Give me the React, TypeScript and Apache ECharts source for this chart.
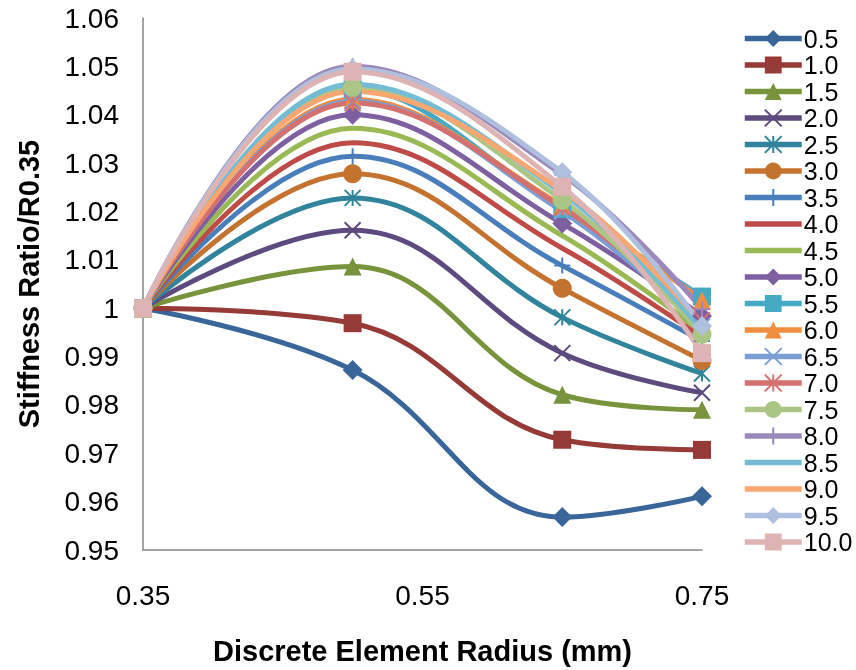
import React, { useEffect, useRef } from "react";
import * as echarts from "echarts";

const xValues = [0.35, 0.5, 0.65, 0.75];
const xTickLabels = [0.35, 0.55, 0.75];
const seriesNames = ["0.5", "1.0", "1.5", "2.0", "2.5", "3.0", "3.5", "4.0", "4.5", "5.0", "5.5", "6.0", "6.5", "7.0", "7.5", "8.0", "8.5", "9.0", "9.5", "10.0"];

const s05 = [1, 0.9872, 0.9568, 0.9611];
const s10 = [1, 0.9969, 0.9728, 0.9707];
const s15 = [1, 1.0086, 0.9821, 0.979];
const s20 = [1, 1.0161, 0.9907, 0.9825];
const s25 = [1, 1.0228, 0.9981, 0.9865];
const s30 = [1, 1.0278, 1.0041, 0.9892];
const s35 = [1, 1.0314, 1.0088, 0.9932];
const s40 = [1, 1.0342, 1.0124, 0.994];
const s45 = [1, 1.0372, 1.015, 0.995];
const s50 = [1, 1.04, 1.0175, 0.9984];
const s55 = [1, 1.0452, 1.0205, 1.0024];
const s60 = [1, 1.0432, 1.0212, 1.0016];
const s65 = [1, 1.0428, 1.02, 0.9962];
const s70 = [1, 1.0424, 1.0208, 0.9975];
const s75 = [1, 1.0457, 1.0223, 0.9946];
const s80 = [1, 1.05, 1.0276, 0.9998];
const s85 = [1, 1.0463, 1.0237, 0.9955];
const s90 = [1, 1.0448, 1.0243, 0.9968];
const s95 = [1, 1.0495, 1.0281, 0.9963];
const s100 = [1, 1.0489, 1.0251, 0.9907];

const seriesValues = [s05, s10, s15, s20, s25, s30, s35, s40, s45, s50, s55, s60, s65, s70, s75, s80, s85, s90, s95, s100];

const colors = [
  "#3A6599", "#953A37", "#77933C", "#5E4A7E", "#31849B", "#C4722F",
  "#4A7EBB", "#BE4B48", "#98B954", "#7E5FA0", "#46AAC5", "#F08E3E",
  "#7C9ED4", "#D2716F", "#AAC586", "#9B88BA", "#74BCD4", "#F9A772",
  "#AFC0DE", "#DDB3B3",
];

const X_PATH = "path://M0,0L10,10M10,0L0,10";
const AST_PATH = "path://M0,0L10,10M10,0L0,10M5,0L5,10";
const PLUS_PATH = "path://M5,0L5,10M0,5L10,5";

const symbols = [
  "diamond", "rect", "triangle", X_PATH, AST_PATH, "circle",
  PLUS_PATH, "none", "none", "diamond", "rect", "triangle",
  X_PATH, AST_PATH, "circle", PLUS_PATH, "none", "none",
  "diamond", "rect",
];

function symbolSizeOf(s: string): number {
  if (s === "diamond") return 20;
  if (s === "rect") return 18;
  if (s === "triangle") return 18;
  if (s === "circle") return 19;
  return 16;
}

const FONT = "'Liberation Sans', Arial, sans-serif";

export default function App() {
  const ref = useRef<HTMLDivElement>(null);
  useEffect(() => {
    if (!ref.current) return;
    const chart = echarts.init(ref.current, null, { renderer: "svg" });
    const series = seriesNames.map((name, i) => {
      const sym = symbols[i];
      const none = sym === "none";
      const strokeOnly = sym.startsWith("path://");
      return {
        name,
        type: "line",
        data: xValues.map((x, j) => [x, seriesValues[i][j]]),
        smooth: 0.4,
        symbol: none ? "circle" : sym,
        symbolSize: none ? 0 : symbolSizeOf(sym),
        showSymbol: !none,
        lineStyle: { color: colors[i], width: 5, opacity: 1 },
        itemStyle: none
          ? { color: colors[i], opacity: 0 }
          : strokeOnly
          ? { color: colors[i], borderColor: colors[i], borderWidth: 2 }
          : { color: colors[i], borderWidth: 0 },
        emphasis: { disabled: true },
        z: 2,
      };
    });
    chart.setOption({
      animation: false,
      color: colors,
      textStyle: { fontFamily: FONT },
      grid: { left: 143, right: 154, top: 18, bottom: 116, containLabel: false },
      legend: {
        orient: "vertical",
        left: 737,
        top: 21,
        itemWidth: 57,
        itemHeight: 21,
        itemGap: 1.5,
        lineStyle: { width: 5.5 },
        textStyle: { fontSize: 25, color: "#000", fontFamily: FONT, padding: [0, 0, 0, -3] },
        data: seriesNames,
      },
      xAxis: {
        type: "value",
        min: 0.35,
        max: 0.75,
        interval: 0.05,
        splitLine: { show: false },
        axisTick: { show: false },
        axisLine: { show: true, lineStyle: { color: "#868686", width: 1.5 } },
        axisLabel: {
          fontSize: 28,
          color: "#000",
          margin: 31,
          fontFamily: FONT,
          formatter: (v: number) =>
            xTickLabels.some((t) => Math.abs(t - v) < 1e-6) ? v.toFixed(2) : "",
        },
        name: "Discrete Element Radius (mm)",
        nameLocation: "middle",
        nameGap: 86,
        nameTextStyle: { fontSize: 29, fontWeight: "bold", color: "#000", fontFamily: FONT },
      },
      yAxis: {
        type: "value",
        min: 0.95,
        max: 1.06,
        interval: 0.01,
        splitLine: { show: false },
        axisTick: { show: false },
        axisLine: { show: true, lineStyle: { color: "#868686", width: 1.5 } },
        axisLabel: {
          fontSize: 28,
          color: "#000",
          margin: 24,
          fontFamily: FONT,
          formatter: (v: number) => String(Number(v.toFixed(2))),
        },
        name: "Stiffness Ratio/R0.35",
        nameLocation: "middle",
        nameRotate: 90,
        nameGap: 100,
        nameTextStyle: { fontSize: 29, fontWeight: "bold", color: "#000", fontFamily: FONT },
      },
      series,
    });
    return () => chart.dispose();
  }, []);
  return (
    <div
      ref={ref}
      style={{ position: "fixed", left: 0, top: 0, width: 856, height: 670 }}
    />
  );
}
